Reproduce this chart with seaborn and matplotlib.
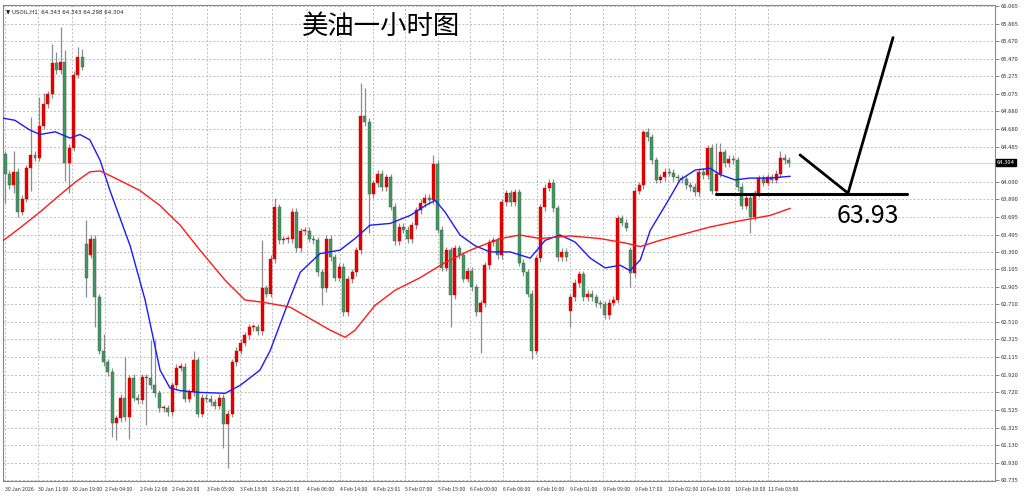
import numpy as np
import pandas as pd
import matplotlib
matplotlib.use("Agg")
import matplotlib.pyplot as plt
import seaborn as sns

closes = [64.18,64.05,64.20,63.75,63.90,64.24,64.39,64.36,64.72,64.96,65.07,65.42,65.34,65.43,64.30,64.47,65.29,65.49,65.38,
63.01,63.45,62.79,62.19,62.06,61.95,61.38,61.43,61.66,61.44,61.88,61.66,61.63,61.89,61.88,61.80,61.71,61.54,61.54,61.50,61.80,
62.00,62.01,61.65,61.72,62.08,61.48,61.66,61.65,61.61,61.57,61.66,61.37,61.48,62.06,62.19,62.28,62.36,62.45,62.45,62.41,
62.89,62.83,63.22,63.80,63.43,63.44,63.44,63.75,63.34,63.53,63.54,63.45,63.43,63.07,62.89,63.45,63.24,63.01,63.13,62.62,
62.99,63.07,63.32,64.83,64.76,63.95,64.07,64.18,64.03,64.14,63.81,63.42,63.58,63.55,63.44,63.60,63.77,63.85,63.91,63.88,
64.29,63.55,63.12,63.32,62.81,63.34,63.26,63.00,63.09,62.90,62.62,62.72,63.15,63.41,63.43,63.26,63.86,63.96,63.86,63.97,
63.18,63.07,62.83,62.19,63.23,63.80,64.02,64.08,63.79,63.24,63.30,63.24,62.79,62.95,63.05,62.79,62.83,62.79,62.72,62.71,
62.59,62.73,62.76,63.68,63.63,63.57,63.06,63.99,64.05,64.65,64.59,64.33,64.11,64.14,64.20,64.19,64.14,64.13,64.12,64.05,
64.03,63.97,64.20,64.16,64.47,63.99,64.18,64.42,64.30,64.35,64.33,64.03,63.82,63.91,63.69,63.96,64.13,64.08,64.14,64.11,
64.18,64.36,64.33,64.30]
gap_opens = {0: 64.40, 19: 63.39, 20: 63.27, 132: 62.64, 146: 63.32}
notable_highs = {2: 64.44, 6: 64.82, 8: 65.04, 9: 65.09, 11: 65.64, 12: 65.55, 13: 65.83, 14: 65.57, 17: 65.60, 18: 65.58,
                 19: 63.66, 23: 62.38, 28: 62.12, 30: 61.93, 34: 62.31, 35: 62.31, 44: 62.19, 60: 63.43, 63: 63.91,
                 83: 65.20, 84: 65.14, 100: 64.39, 149: 64.67, 164: 64.50, 166: 64.52, 167: 64.52, 181: 64.44}
notable_lows = {0: 63.85, 2: 63.96, 3: 63.69, 6: 63.99, 14: 64.10, 15: 63.96, 19: 62.79, 21: 62.45, 25: 61.22, 26: 61.18,
                29: 61.20, 33: 61.35, 51: 61.10, 52: 60.87, 74: 62.70, 85: 63.51, 104: 62.45, 111: 62.16, 123: 62.10,
                132: 62.45, 146: 62.90, 174: 63.51, 175: 63.66}

blue_idx = [-1.2,2.3,5.8,8.2,11.7,15.2,17.5,19.8,22.2,24.5,29.2,32.7,36.2,38.5,40.9,45.5,51.4,54.9,59.5,61.9,65.4,68.9,73.5,78.2,
            81.7,85.2,89.9,94.6,98.1,100.4,102.7,106.2,109.7,113.2,117.9,122.6,126.1,129.6,133.1,136.6,140.1,143.6,145.9,148.3,
            150.6,154.1,157.6,161.1,164.6,166.9,170.4,173.9,178.6,183.3]
blue_val = [64.81,64.78,64.67,64.62,64.65,64.58,64.62,64.56,64.33,63.99,63.37,62.76,61.97,61.77,61.74,61.72,61.71,61.80,61.97,
            62.19,62.64,63.07,63.28,63.32,63.45,63.60,63.62,63.71,63.82,63.88,63.75,63.49,63.37,63.30,63.30,63.23,63.43,63.49,
            63.41,63.23,63.12,63.15,63.09,63.21,63.54,63.82,64.11,64.22,64.24,64.17,64.11,64.13,64.13,64.15]
red_idx = [-1.2,3.5,8.2,12.8,16.3,19.8,22.2,25.7,31.5,36.2,40.9,45.5,51.4,56.0,60.7,66.5,71.2,75.9,79.4,81.7,86.4,91.1,96.9,
           102.7,108.6,115.6,120.2,124.9,131.9,138.9,144.8,148.3,152.9,157.6,164.6,171.6,178.6,183.3]
red_val = [63.40,63.57,63.75,63.94,64.08,64.20,64.21,64.13,63.99,63.82,63.60,63.32,62.98,62.76,62.73,62.68,62.55,62.42,62.34,
           62.42,62.70,62.87,63.01,63.18,63.32,63.45,63.49,63.45,63.48,63.45,63.40,63.36,63.43,63.49,63.58,63.65,63.71,63.79]

price_ticks = [66.065,65.865,65.670,65.470,65.275,65.075,64.880,64.680,64.485,64.090,63.890,63.695,63.495,63.300,63.105,
               62.905,62.710,62.510,62.315,62.115,61.920,61.720,61.525,61.325,61.130,60.930,60.735]
time_labels = ["30 Jan 2026","30 Jan 11:00","30 Jan 19:00","2 Feb 04:00","2 Feb 12:00","2 Feb 20:00","3 Feb 05:00",
               "3 Feb 13:00","3 Feb 21:00","4 Feb 06:00","4 Feb 14:00","4 Feb 23:01","5 Feb 07:00","5 Feb 15:00",
               "6 Feb 00:00","6 Feb 08:00","6 Feb 16:00","9 Feb 01:00","9 Feb 09:00","9 Feb 17:00","10 Feb 02:00",
               "10 Feb 10:00","10 Feb 18:00","11 Feb 03:00"]
time_label_idx = [0,7.7,15.6,23.3,31.5,39.0,47.2,54.9,62.4,70.5,78.2,85.9,93.4,101.1,108.6,116.3,124.2,131.9,139.6,147.1,
                  154.8,162.3,170.4,178.1]
last_price = 64.304
level = 63.93

sns.set_style("white")
plt.rcParams['font.family'] = ['Noto Sans CJK SC', 'DejaVu Sans']

n = len(closes)
opens = [gap_opens.get(i, closes[i-1] if i > 0 else closes[0]) for i in range(n)]
highs = [notable_highs.get(i, max(opens[i], closes[i]) + 0.04) for i in range(n)]
lows = [notable_lows.get(i, min(opens[i], closes[i]) - 0.04) for i in range(n)]
df = pd.DataFrame({"i": np.arange(n), "o": opens, "c": closes, "h": highs, "l": lows})

fig = plt.figure(figsize=(10.24, 4.97), dpi=100)
ax = fig.add_axes([3/1024, 16/497, 992/1024, 476/497])
ax.set_xlim(-0.47, 231.1)
ax.set_ylim(60.724, 66.076)

for t in price_ticks:
    ax.axhline(t, color="#bdbdbd", lw=0.7, ls=(0, (2, 2)), zorder=0)
for t in time_label_idx:
    ax.axvline(t, color="#bdbdbd", lw=0.7, ls=(0, (2, 2)), zorder=0)
ax.axhline(last_price, color="#dcdcdc", lw=1.0, zorder=0.5)

for r in df.itertuples():
    up = r.c >= r.o
    ax.vlines(r.i, r.l, r.h, color="#8c8c8c", lw=0.9, zorder=1)
    col = "#e00000" if up else "#3c9a5e"
    lo, hi = min(r.o, r.c), max(r.o, r.c)
    ax.bar(r.i, max(hi - lo, 0.012), bottom=lo, width=0.7, color=col, edgecolor="#555555" if not up else col,
           linewidth=0.3, zorder=2)

sns.lineplot(x=blue_idx, y=blue_val, ax=ax, color="#1a1aff", lw=1.0, zorder=3)
sns.lineplot(x=red_idx, y=red_val, ax=ax, color="#ff1a1a", lw=1.0, zorder=3)

ax.plot([166.0, 210.6], [63.95, 63.95], color="black", lw=2.2, zorder=4)
ax.plot([185.6, 196.8, 207.3], [64.39, 63.96, 65.71], color="black", lw=2.0, zorder=4)
ax.text(201.5, 63.70, f"{level:.2f}", fontsize=18, ha="center", va="center", color="black")
ax.text(0.381, 0.955, "美油一小时图", transform=ax.transAxes, fontsize=19, ha="center", va="center", color="black")
ax.text(0.003, 0.992, "\u25bc USOIL,H1  64.343 64.343 64.298 64.304", transform=ax.transAxes, fontsize=4,
        ha="left", va="top", color="#222222", family=['DejaVu Sans'])

ax.yaxis.tick_right()
ax.set_yticks(price_ticks)
ax.set_yticklabels([f"{t:.3f}" for t in price_ticks], fontsize=4.2, color="#333333")
ax.tick_params(axis="y", length=3, width=0.5, pad=1, color="#555555")
ax.text(1.002, (last_price - 60.724) / (66.076 - 60.724), f"{last_price:.3f}", transform=ax.transAxes,
        fontsize=4.2, color="white", ha="left", va="center",
        bbox=dict(boxstyle="square,pad=0.15", fc="black", ec="black"))
ax.set_xticks(time_label_idx)
ax.set_xticklabels(time_labels, fontsize=3.8, color="#333333", ha="left")
ax.tick_params(axis="x", length=3, width=0.5, pad=1, color="#555555")
for s in ax.spines.values():
    s.set_color("#888888")
    s.set_linewidth(0.8)

fig.savefig("out.png", dpi=100, facecolor="white")
